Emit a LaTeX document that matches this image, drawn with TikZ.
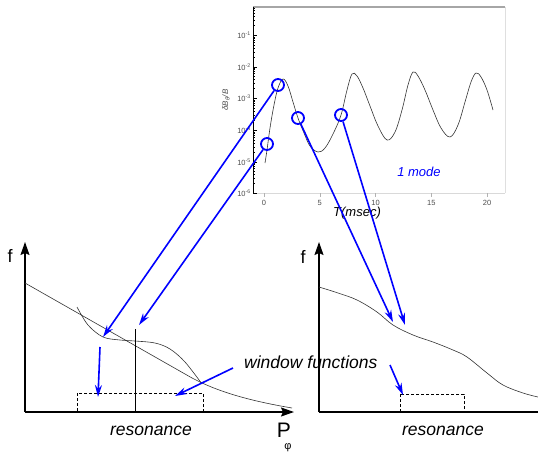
\documentclass[tikz,border=0pt]{standalone}
\usepackage{fontspec}
\setmainfont{Liberation Sans}
\usetikzlibrary{arrows.meta}
\begin{document}
\begin{tikzpicture}[x=1pt,y=-1pt,
  bluearrow/.style={draw=blue, line width=1.6pt, -{Stealth[length=12pt,width=7pt]}},
  ring/.style={circle, draw=blue, line width=1.8pt, minimum size=12pt, inner sep=0pt},
  axisarrow/.style={draw=black, line width=1.4pt, -{Stealth[length=13pt,width=9pt,inset=2pt]}},
  thincurve/.style={line width=0.6pt, draw=black!80},
  biglabel/.style={font=\fontsize{17.5}{20}\selectfont\itshape, inner sep=0pt},
  ticklabel/.style={font=\fontsize{7.5}{8}\selectfont, text=black!70, inner sep=0pt},
  winbox/.style={draw, line width=0.9pt, dash pattern=on 3pt off 2pt}
]
\useasboundingbox (0,0) rectangle (538,453);

% ---------- top plot frame ----------
\draw[gray!70, line width=1.4pt] (253,7) -- (505,7);
\draw[gray!25, line width=0.8pt] (505,7) -- (505,193);
\draw[gray!30, line width=0.8pt] (253,193) -- (505,193);
\draw[black, line width=0.8pt] (253,7) -- (253,193);
% y ticks (log)
\foreach \d in {35,67,98,130,162,193}{
  \draw[line width=0.5pt] (253,\d) -- (257,\d);
  \foreach \k in {2,...,9}{
    \pgfmathsetmacro{\yy}{\d-31.6*log10(\k)}
    \ifdim \yy pt > 7pt
      \draw[line width=0.4pt] (253,\yy) -- (255,\yy);
    \fi
  }
}
\node[ticklabel, anchor=east] (ya) at (251,35) {10\textsuperscript{-1}};
\node[ticklabel, anchor=east] (yb) at (251,67) {10\textsuperscript{-2}};
\node[ticklabel, anchor=east] (yc) at (251,98) {10\textsuperscript{-3}};
\node[ticklabel, anchor=east] (yd) at (251,130) {10\textsuperscript{-4}};
\node[ticklabel, anchor=east] (ye) at (251,162) {10\textsuperscript{-5}};
\node[ticklabel, anchor=east] (yf) at (251,193) {10\textsuperscript{-6}};
\node[font=\fontsize{8}{9}\selectfont\itshape, text=black!70, rotate=90, inner sep=0pt] (ylab) at (226,100) {δB\textsubscript{θ}/B};
% x ticks
\foreach \t in {0,5,10,15,20}{
  \pgfmathsetmacro{\xx}{264+11.15*\t}
  \draw[gray!60, line width=0.5pt] (\xx,193) -- (\xx,197);
  \node[ticklabel] at (\xx,203) {\t};
}
\node[font=\fontsize{13}{14}\selectfont\itshape, inner sep=0pt] (tlab) at (357,213) {T(msec)};
\node[font=\fontsize{13}{14}\selectfont\itshape, text=blue, inner sep=0pt] (mode) at (419,172) {1 mode};

% data curve
\draw[thincurve] plot[smooth, tension=0.6] coordinates {
  (265,163) (267,150) (270,128) (274,105) (278,88) (283,79) (288,86) (293,102)
  (298,118) (304,133) (310,146) (318,152) (325,148) (333,134) (341,115) (347,90)
  (352,74) (357,76) (363,88) (370,106) (378,126) (387,140) (395,132) (402,110)
  (408,85) (413,72) (418,76) (425,90) (433,110) (441,128) (450,137) (458,125)
  (465,102) (471,82) (476,73) (481,77) (487,90) (493,110)};

% ---------- bottom left panel ----------
\coordinate (lo) at (25,412);
\coordinate (ltop) at (25,242);
\coordinate (lright) at (294,412);
\draw[axisarrow] (lo) -- (ltop);
\draw[axisarrow] (lo) -- (lright);
\node[font=\fontsize{18}{20}\selectfont, inner sep=0pt] (lf) at (10,256) {f};
\node[font=\fontsize{21}{22}\selectfont, inner sep=0pt] (lp) at (284,430) {P};
\node[font=\fontsize{11}{12}\selectfont, inner sep=0pt] (lphi) at (288,448) {φ};

\draw[thincurve] (25,283) -- (185,374) .. controls (212,390) and (245,400) .. (292,408);
\draw[thincurve] plot[smooth, tension=0.55] coordinates {
  (77,307) (88,325) (103,337) (120,340) (135,341) (155,343) (170,349) (185,362) (202,384)};
\draw[line width=0.6pt] (135,329) -- (135,412);
\draw[winbox] (77,393) rectangle (203,412);
\node[biglabel, anchor=base] (lres) at (151,435) {resonance};

% ---------- bottom right panel ----------
\coordinate (ro) at (319,412);
\coordinate (rtop) at (319,242);
\coordinate (rright) at (538,412);
\draw[axisarrow] (ro) -- (rtop);
\draw[line width=1.4pt] (ro) -- (rright);
\node[font=\fontsize{18}{20}\selectfont, inner sep=0pt] (rf) at (303,257) {f};
\draw[thincurve] plot[smooth, tension=0.6] coordinates {
  (319,287) (338,293) (357,300) (377,312) (393,325) (413,335) (433,342) (453,350)
  (467,357) (487,373) (503,385) (523,393) (538,397)};
\draw[winbox] (400,394) rectangle (464,412);
\node[biglabel, anchor=base] (rres) at (443,435) {resonance};

% window functions label
\node[biglabel, anchor=base west] (win) at (244,368) {window functions};

% ---------- rings and arrows ----------
\node[ring] (c1) at (267,144) {};
\node[ring] (c2) at (278,85) {};
\node[ring] (c3) at (298,118) {};
\node[ring] (c4) at (341,115) {};

\coordinate (t1) at (139,325);
\coordinate (t2) at (103,337);
\coordinate (t3) at (393,322);
\coordinate (t4) at (405,325);
\draw[bluearrow] (c2) -- (t2);
\draw[bluearrow] (c1) -- (t1);
\draw[bluearrow] (c3) -- (t3);
\draw[bluearrow] (c4) -- (t4);

\coordinate (s1) at (100,347);
\coordinate (e1) at (98,397);
\coordinate (s2) at (233,368);
\coordinate (e2) at (175,396);
\coordinate (s3) at (390,365);
\coordinate (e3) at (403,395);
\draw[bluearrow] (s1) -- (e1);
\draw[bluearrow] (s2) -- (e2);
\draw[bluearrow] (s3) -- (e3);
\end{tikzpicture}
\end{document}
